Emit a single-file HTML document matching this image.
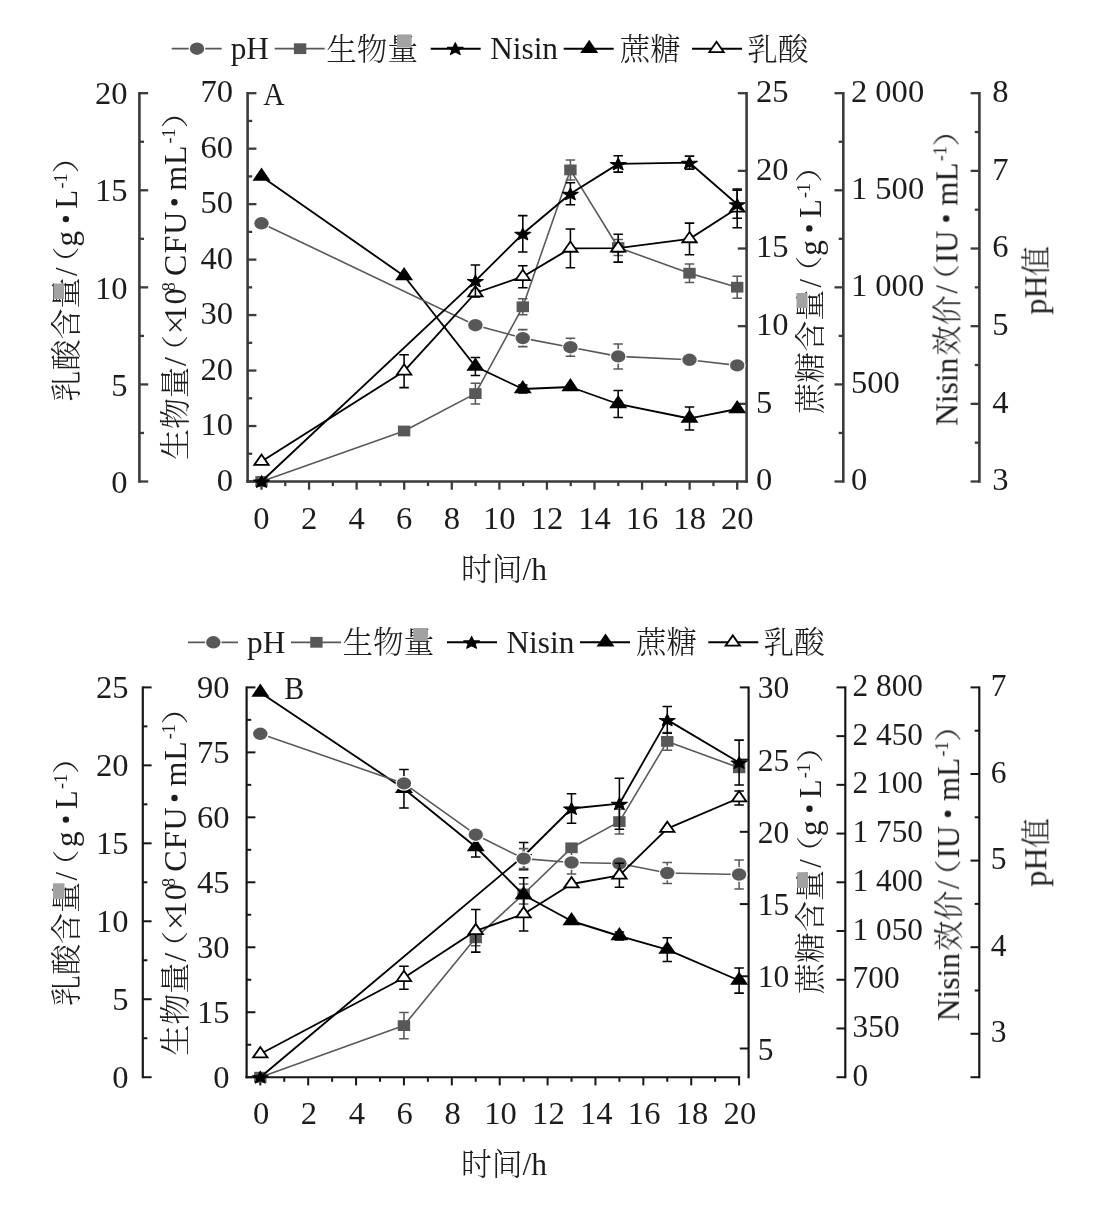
<!DOCTYPE html>
<html lang="zh">
<head>
<meta charset="utf-8">
<title>Nisin fermentation curves</title>
<style>
html,body{margin:0;padding:0;background:#fff;}
svg{display:block;}
.t{font-family:"Liberation Serif","Noto Serif CJK SC",serif;fill:#1c1c1c;}
.c{font-family:"Liberation Serif","Noto Serif CJK SC",serif;font-weight:300;fill:#1c1c1c;}
</style>
</head>
<body>
<svg width="1103" height="1211" viewBox="0 0 1103 1211">
<defs><filter id="soft" x="0" y="0" width="1103" height="1211" filterUnits="userSpaceOnUse"><feGaussianBlur stdDeviation="0.55"/></filter></defs>
<rect width="1103" height="1211" fill="#fff"/>
<g filter="url(#soft)">
<line x1="171.7" y1="48.7" x2="221.7" y2="48.7" stroke="#595959" stroke-width="1.75" stroke-linecap="butt"/>
<ellipse cx="197" cy="48.7" rx="7.2" ry="6.2" fill="#595959" stroke="#fff" stroke-width="2.4" paint-order="stroke"/>
<text transform="translate(230.7,59.3) scale(1.0,1)" text-anchor="start" font-size="31.3" class="t">pH</text>
<line x1="274.7" y1="48.7" x2="324.7" y2="48.7" stroke="#595959" stroke-width="1.75" stroke-linecap="butt"/>
<rect x="293.9" y="43.3" width="12.4" height="10.8" fill="#595959"/>
<text transform="translate(326.2,59.5) scale(1,1)" text-anchor="start" font-size="30.6" class="c">生物量</text>
<line x1="430.7" y1="48.7" x2="480.7" y2="48.7" stroke="#000000" stroke-width="2.0" stroke-linecap="butt"/>
<polygon points="455.3,42.82 457.4,47.06 463.19,47.31 458.69,50.18 460.18,54.58 455.3,52.12 450.42,54.58 451.91,50.18 447.41,47.31 453.2,47.06" fill="#000000" stroke="#000000" stroke-width="1.1" stroke-linejoin="round"/>
<text transform="translate(490.2,59.3) scale(1.0,1)" text-anchor="start" font-size="31.3" class="t">Nisin</text>
<line x1="563.7" y1="48.7" x2="613.7" y2="48.7" stroke="#000000" stroke-width="2.0" stroke-linecap="butt"/>
<polygon points="589.2,39.8 598.2,52.9 580.2,52.9" fill="#000000"/>
<text transform="translate(619.7,59.5) scale(1,1)" text-anchor="start" font-size="30.6" class="c">蔗糖</text>
<line x1="692" y1="48.7" x2="742" y2="48.7" stroke="#000000" stroke-width="2.0" stroke-linecap="butt"/>
<polygon points="716.5,41.77 723.7,52.07 709.3,52.07" fill="#fff" stroke="#000000" stroke-width="1.8" stroke-linejoin="miter"/>
<text transform="translate(747.2,59.5) scale(1,1)" text-anchor="start" font-size="30.6" class="c">乳酸</text>
<rect x="396.9" y="34.4" width="14.5" height="13.2" fill="#a2a2a2"/>
<line x1="246.3" y1="481.5" x2="747.9" y2="481.5" stroke="#3a3a3a" stroke-width="2.7" stroke-linecap="butt"/>
<line x1="261.5" y1="481.5" x2="261.5" y2="489.7" stroke="#3a3a3a" stroke-width="2.3" stroke-linecap="butt"/>
<text transform="translate(261.5,528.8) scale(1.0,1)" text-anchor="middle" font-size="32.6" class="t">0</text>
<line x1="285.29" y1="481.5" x2="285.29" y2="486.1" stroke="#3a3a3a" stroke-width="2.3" stroke-linecap="butt"/>
<line x1="309.07" y1="481.5" x2="309.07" y2="489.7" stroke="#3a3a3a" stroke-width="2.3" stroke-linecap="butt"/>
<text transform="translate(309.07,528.8) scale(1.0,1)" text-anchor="middle" font-size="32.6" class="t">2</text>
<line x1="332.86" y1="481.5" x2="332.86" y2="486.1" stroke="#3a3a3a" stroke-width="2.3" stroke-linecap="butt"/>
<line x1="356.64" y1="481.5" x2="356.64" y2="489.7" stroke="#3a3a3a" stroke-width="2.3" stroke-linecap="butt"/>
<text transform="translate(356.64,528.8) scale(1.0,1)" text-anchor="middle" font-size="32.6" class="t">4</text>
<line x1="380.43" y1="481.5" x2="380.43" y2="486.1" stroke="#3a3a3a" stroke-width="2.3" stroke-linecap="butt"/>
<line x1="404.21" y1="481.5" x2="404.21" y2="489.7" stroke="#3a3a3a" stroke-width="2.3" stroke-linecap="butt"/>
<text transform="translate(404.21,528.8) scale(1.0,1)" text-anchor="middle" font-size="32.6" class="t">6</text>
<line x1="428" y1="481.5" x2="428" y2="486.1" stroke="#3a3a3a" stroke-width="2.3" stroke-linecap="butt"/>
<line x1="451.78" y1="481.5" x2="451.78" y2="489.7" stroke="#3a3a3a" stroke-width="2.3" stroke-linecap="butt"/>
<text transform="translate(451.78,528.8) scale(1.0,1)" text-anchor="middle" font-size="32.6" class="t">8</text>
<line x1="475.57" y1="481.5" x2="475.57" y2="486.1" stroke="#3a3a3a" stroke-width="2.3" stroke-linecap="butt"/>
<line x1="499.35" y1="481.5" x2="499.35" y2="489.7" stroke="#3a3a3a" stroke-width="2.3" stroke-linecap="butt"/>
<text transform="translate(499.35,528.8) scale(1.0,1)" text-anchor="middle" font-size="32.6" class="t">10</text>
<line x1="523.13" y1="481.5" x2="523.13" y2="486.1" stroke="#3a3a3a" stroke-width="2.3" stroke-linecap="butt"/>
<line x1="546.92" y1="481.5" x2="546.92" y2="489.7" stroke="#3a3a3a" stroke-width="2.3" stroke-linecap="butt"/>
<text transform="translate(546.92,528.8) scale(1.0,1)" text-anchor="middle" font-size="32.6" class="t">12</text>
<line x1="570.71" y1="481.5" x2="570.71" y2="486.1" stroke="#3a3a3a" stroke-width="2.3" stroke-linecap="butt"/>
<line x1="594.49" y1="481.5" x2="594.49" y2="489.7" stroke="#3a3a3a" stroke-width="2.3" stroke-linecap="butt"/>
<text transform="translate(594.49,528.8) scale(1.0,1)" text-anchor="middle" font-size="32.6" class="t">14</text>
<line x1="618.28" y1="481.5" x2="618.28" y2="486.1" stroke="#3a3a3a" stroke-width="2.3" stroke-linecap="butt"/>
<line x1="642.06" y1="481.5" x2="642.06" y2="489.7" stroke="#3a3a3a" stroke-width="2.3" stroke-linecap="butt"/>
<text transform="translate(642.06,528.8) scale(1.0,1)" text-anchor="middle" font-size="32.6" class="t">16</text>
<line x1="665.85" y1="481.5" x2="665.85" y2="486.1" stroke="#3a3a3a" stroke-width="2.3" stroke-linecap="butt"/>
<line x1="689.63" y1="481.5" x2="689.63" y2="489.7" stroke="#3a3a3a" stroke-width="2.3" stroke-linecap="butt"/>
<text transform="translate(689.63,528.8) scale(1.0,1)" text-anchor="middle" font-size="32.6" class="t">18</text>
<line x1="713.42" y1="481.5" x2="713.42" y2="486.1" stroke="#3a3a3a" stroke-width="2.3" stroke-linecap="butt"/>
<line x1="737.2" y1="481.5" x2="737.2" y2="489.7" stroke="#3a3a3a" stroke-width="2.3" stroke-linecap="butt"/>
<text transform="translate(737.2,528.8) scale(1.0,1)" text-anchor="middle" font-size="32.6" class="t">20</text>
<text x="461" y="579.8" font-size="30.8" class="c">时间<tspan class="t" font-size="31.5">/h</tspan></text>
<line x1="139.4" y1="92.05" x2="139.4" y2="482.65" stroke="#3a3a3a" stroke-width="2.6" stroke-linecap="butt"/>
<line x1="139.4" y1="93.2" x2="148.2" y2="93.2" stroke="#3a3a3a" stroke-width="2.3" stroke-linecap="butt"/>
<line x1="139.4" y1="190.28" x2="148.2" y2="190.28" stroke="#3a3a3a" stroke-width="2.3" stroke-linecap="butt"/>
<line x1="139.4" y1="287.35" x2="148.2" y2="287.35" stroke="#3a3a3a" stroke-width="2.3" stroke-linecap="butt"/>
<line x1="139.4" y1="384.43" x2="148.2" y2="384.43" stroke="#3a3a3a" stroke-width="2.3" stroke-linecap="butt"/>
<line x1="139.4" y1="481.5" x2="148.2" y2="481.5" stroke="#3a3a3a" stroke-width="2.3" stroke-linecap="butt"/>
<line x1="139.4" y1="141.74" x2="144" y2="141.74" stroke="#3a3a3a" stroke-width="2.3" stroke-linecap="butt"/>
<line x1="139.4" y1="238.81" x2="144" y2="238.81" stroke="#3a3a3a" stroke-width="2.3" stroke-linecap="butt"/>
<line x1="139.4" y1="335.89" x2="144" y2="335.89" stroke="#3a3a3a" stroke-width="2.3" stroke-linecap="butt"/>
<line x1="139.4" y1="432.96" x2="144" y2="432.96" stroke="#3a3a3a" stroke-width="2.3" stroke-linecap="butt"/>
<text transform="translate(127.6,104.4) scale(1.0,1)" text-anchor="end" font-size="32.6" class="t">20</text>
<text transform="translate(127.6,201.47) scale(1.0,1)" text-anchor="end" font-size="32.6" class="t">15</text>
<text transform="translate(127.6,298.55) scale(1.0,1)" text-anchor="end" font-size="32.6" class="t">10</text>
<text transform="translate(127.6,395.62) scale(1.0,1)" text-anchor="end" font-size="32.6" class="t">5</text>
<text transform="translate(127.6,492.7) scale(1.0,1)" text-anchor="end" font-size="32.6" class="t">0</text>
<line x1="247.6" y1="92.05" x2="247.6" y2="482.65" stroke="#3a3a3a" stroke-width="2.6" stroke-linecap="butt"/>
<line x1="247.6" y1="93.2" x2="256.4" y2="93.2" stroke="#3a3a3a" stroke-width="2.3" stroke-linecap="butt"/>
<line x1="247.6" y1="148.67" x2="256.4" y2="148.67" stroke="#3a3a3a" stroke-width="2.3" stroke-linecap="butt"/>
<line x1="247.6" y1="204.14" x2="256.4" y2="204.14" stroke="#3a3a3a" stroke-width="2.3" stroke-linecap="butt"/>
<line x1="247.6" y1="259.61" x2="256.4" y2="259.61" stroke="#3a3a3a" stroke-width="2.3" stroke-linecap="butt"/>
<line x1="247.6" y1="315.09" x2="256.4" y2="315.09" stroke="#3a3a3a" stroke-width="2.3" stroke-linecap="butt"/>
<line x1="247.6" y1="370.56" x2="256.4" y2="370.56" stroke="#3a3a3a" stroke-width="2.3" stroke-linecap="butt"/>
<line x1="247.6" y1="426.03" x2="256.4" y2="426.03" stroke="#3a3a3a" stroke-width="2.3" stroke-linecap="butt"/>
<line x1="247.6" y1="481.5" x2="256.4" y2="481.5" stroke="#3a3a3a" stroke-width="2.3" stroke-linecap="butt"/>
<line x1="247.6" y1="120.94" x2="252.2" y2="120.94" stroke="#3a3a3a" stroke-width="2.3" stroke-linecap="butt"/>
<line x1="247.6" y1="176.41" x2="252.2" y2="176.41" stroke="#3a3a3a" stroke-width="2.3" stroke-linecap="butt"/>
<line x1="247.6" y1="231.88" x2="252.2" y2="231.88" stroke="#3a3a3a" stroke-width="2.3" stroke-linecap="butt"/>
<line x1="247.6" y1="287.35" x2="252.2" y2="287.35" stroke="#3a3a3a" stroke-width="2.3" stroke-linecap="butt"/>
<line x1="247.6" y1="342.82" x2="252.2" y2="342.82" stroke="#3a3a3a" stroke-width="2.3" stroke-linecap="butt"/>
<line x1="247.6" y1="398.29" x2="252.2" y2="398.29" stroke="#3a3a3a" stroke-width="2.3" stroke-linecap="butt"/>
<line x1="247.6" y1="453.76" x2="252.2" y2="453.76" stroke="#3a3a3a" stroke-width="2.3" stroke-linecap="butt"/>
<text transform="translate(233,102.2) scale(1.0,1)" text-anchor="end" font-size="32.6" class="t">70</text>
<text transform="translate(233,157.67) scale(1.0,1)" text-anchor="end" font-size="32.6" class="t">60</text>
<text transform="translate(233,213.14) scale(1.0,1)" text-anchor="end" font-size="32.6" class="t">50</text>
<text transform="translate(233,268.61) scale(1.0,1)" text-anchor="end" font-size="32.6" class="t">40</text>
<text transform="translate(233,324.09) scale(1.0,1)" text-anchor="end" font-size="32.6" class="t">30</text>
<text transform="translate(233,379.56) scale(1.0,1)" text-anchor="end" font-size="32.6" class="t">20</text>
<text transform="translate(233,435.03) scale(1.0,1)" text-anchor="end" font-size="32.6" class="t">10</text>
<text transform="translate(233,490.5) scale(1.0,1)" text-anchor="end" font-size="32.6" class="t">0</text>
<line x1="746.6" y1="92.05" x2="746.6" y2="482.65" stroke="#3a3a3a" stroke-width="2.6" stroke-linecap="butt"/>
<line x1="746.6" y1="93.2" x2="737.8" y2="93.2" stroke="#3a3a3a" stroke-width="2.3" stroke-linecap="butt"/>
<line x1="746.6" y1="170.86" x2="737.8" y2="170.86" stroke="#3a3a3a" stroke-width="2.3" stroke-linecap="butt"/>
<line x1="746.6" y1="248.52" x2="737.8" y2="248.52" stroke="#3a3a3a" stroke-width="2.3" stroke-linecap="butt"/>
<line x1="746.6" y1="326.18" x2="737.8" y2="326.18" stroke="#3a3a3a" stroke-width="2.3" stroke-linecap="butt"/>
<line x1="746.6" y1="403.84" x2="737.8" y2="403.84" stroke="#3a3a3a" stroke-width="2.3" stroke-linecap="butt"/>
<text transform="translate(756,101.9) scale(1.0,1)" text-anchor="start" font-size="32.6" class="t">25</text>
<text transform="translate(756,179.56) scale(1.0,1)" text-anchor="start" font-size="32.6" class="t">20</text>
<text transform="translate(756,257.22) scale(1.0,1)" text-anchor="start" font-size="32.6" class="t">15</text>
<text transform="translate(756,334.88) scale(1.0,1)" text-anchor="start" font-size="32.6" class="t">10</text>
<text transform="translate(756,412.54) scale(1.0,1)" text-anchor="start" font-size="32.6" class="t">5</text>
<text transform="translate(756,490.2) scale(1.0,1)" text-anchor="start" font-size="32.6" class="t">0</text>
<line x1="843.3" y1="92.05" x2="843.3" y2="482.65" stroke="#3a3a3a" stroke-width="2.6" stroke-linecap="butt"/>
<line x1="843.3" y1="93.2" x2="834.5" y2="93.2" stroke="#3a3a3a" stroke-width="2.3" stroke-linecap="butt"/>
<line x1="843.3" y1="190.28" x2="834.5" y2="190.28" stroke="#3a3a3a" stroke-width="2.3" stroke-linecap="butt"/>
<line x1="843.3" y1="287.35" x2="834.5" y2="287.35" stroke="#3a3a3a" stroke-width="2.3" stroke-linecap="butt"/>
<line x1="843.3" y1="384.43" x2="834.5" y2="384.43" stroke="#3a3a3a" stroke-width="2.3" stroke-linecap="butt"/>
<line x1="843.3" y1="481.5" x2="834.5" y2="481.5" stroke="#3a3a3a" stroke-width="2.3" stroke-linecap="butt"/>
<line x1="843.3" y1="141.74" x2="838.7" y2="141.74" stroke="#3a3a3a" stroke-width="2.3" stroke-linecap="butt"/>
<line x1="843.3" y1="238.81" x2="838.7" y2="238.81" stroke="#3a3a3a" stroke-width="2.3" stroke-linecap="butt"/>
<line x1="843.3" y1="335.89" x2="838.7" y2="335.89" stroke="#3a3a3a" stroke-width="2.3" stroke-linecap="butt"/>
<line x1="843.3" y1="432.96" x2="838.7" y2="432.96" stroke="#3a3a3a" stroke-width="2.3" stroke-linecap="butt"/>
<text transform="translate(850.9,101.6) scale(1.0,1)" text-anchor="start" font-size="32.6" class="t">2 000</text>
<text transform="translate(850.9,198.68) scale(1.0,1)" text-anchor="start" font-size="32.6" class="t">1 500</text>
<text transform="translate(850.9,295.75) scale(1.0,1)" text-anchor="start" font-size="32.6" class="t">1 000</text>
<text transform="translate(850.9,392.82) scale(1.0,1)" text-anchor="start" font-size="32.6" class="t">500</text>
<text transform="translate(850.9,489.9) scale(1.0,1)" text-anchor="start" font-size="32.6" class="t">0</text>
<line x1="979.4" y1="92.05" x2="979.4" y2="482.65" stroke="#3a3a3a" stroke-width="2.6" stroke-linecap="butt"/>
<line x1="979.4" y1="93.2" x2="970.6" y2="93.2" stroke="#3a3a3a" stroke-width="2.3" stroke-linecap="butt"/>
<line x1="979.4" y1="170.86" x2="970.6" y2="170.86" stroke="#3a3a3a" stroke-width="2.3" stroke-linecap="butt"/>
<line x1="979.4" y1="248.52" x2="970.6" y2="248.52" stroke="#3a3a3a" stroke-width="2.3" stroke-linecap="butt"/>
<line x1="979.4" y1="326.18" x2="970.6" y2="326.18" stroke="#3a3a3a" stroke-width="2.3" stroke-linecap="butt"/>
<line x1="979.4" y1="403.84" x2="970.6" y2="403.84" stroke="#3a3a3a" stroke-width="2.3" stroke-linecap="butt"/>
<line x1="979.4" y1="481.5" x2="970.6" y2="481.5" stroke="#3a3a3a" stroke-width="2.3" stroke-linecap="butt"/>
<line x1="979.4" y1="132.03" x2="974.8" y2="132.03" stroke="#3a3a3a" stroke-width="2.3" stroke-linecap="butt"/>
<line x1="979.4" y1="209.69" x2="974.8" y2="209.69" stroke="#3a3a3a" stroke-width="2.3" stroke-linecap="butt"/>
<line x1="979.4" y1="287.35" x2="974.8" y2="287.35" stroke="#3a3a3a" stroke-width="2.3" stroke-linecap="butt"/>
<line x1="979.4" y1="365.01" x2="974.8" y2="365.01" stroke="#3a3a3a" stroke-width="2.3" stroke-linecap="butt"/>
<line x1="979.4" y1="442.67" x2="974.8" y2="442.67" stroke="#3a3a3a" stroke-width="2.3" stroke-linecap="butt"/>
<text transform="translate(992.3,101.9) scale(1.0,1)" text-anchor="start" font-size="32.6" class="t">8</text>
<text transform="translate(992.3,179.56) scale(1.0,1)" text-anchor="start" font-size="32.6" class="t">7</text>
<text transform="translate(992.3,257.22) scale(1.0,1)" text-anchor="start" font-size="32.6" class="t">6</text>
<text transform="translate(992.3,334.88) scale(1.0,1)" text-anchor="start" font-size="32.6" class="t">5</text>
<text transform="translate(992.3,412.54) scale(1.0,1)" text-anchor="start" font-size="32.6" class="t">4</text>
<text transform="translate(992.3,490.2) scale(1.0,1)" text-anchor="start" font-size="32.6" class="t">3</text>
<g transform="translate(77.2,401.5) rotate(-90)">
<text x="0" y="0" font-size="31" class="c">乳酸含量</text>
<text x="125.5" y="0" font-size="31" class="t" letter-spacing="0">/</text>
<text transform="translate(121.6,-1.2) scale(1.25,1)" font-size="27" class="c">（</text>
<text x="155.1" y="0" font-size="31" class="t" letter-spacing="0">g</text>
<circle cx="182.4" cy="-11.3" r="3.2" fill="#1c1c1c"/>
<text x="192.8" y="0" font-size="31" class="t" letter-spacing="0">L</text>
<text x="212.9" y="-10.6" font-size="18" class="t">-1</text>
<text transform="translate(228.1,-1.2) scale(1.25,1)" font-size="27" class="c">）</text>
</g>
<rect x="53.5" y="283.5" width="10.5" height="15.5" fill="#a2a2a2"/>
<g transform="translate(185.7,460) rotate(-90)">
<text x="0" y="0" font-size="31" class="c">生物量</text>
<text x="94" y="0" font-size="32" class="t" letter-spacing="1">/</text>
<text transform="translate(91.5,-1.2) scale(1.25,1)" font-size="27" class="c">（</text>
<text x="126" y="0" font-size="32" class="t" letter-spacing="1">×</text>
<text x="138.5" y="0" font-size="32" class="t" letter-spacing="1">10</text>
<text x="168.8" y="-10.6" font-size="18" class="t">8</text>
<text x="184.1" y="0" font-size="32" class="t" letter-spacing="1">CFU</text>
<circle cx="257.8" cy="-11.3" r="3.2" fill="#1c1c1c"/>
<text x="269.2" y="0" font-size="32" class="t" letter-spacing="1">mL</text>
<text x="316.6" y="-10.6" font-size="18" class="t">-1</text>
<text transform="translate(331.4,-1.2) scale(1.25,1)" font-size="27" class="c">）</text>
</g>
<g transform="translate(820.6,410.8) rotate(-90)">
<text x="-3" y="0" font-size="31" class="c">蔗糖含量</text>
<text x="123.3" y="0" font-size="31" class="t" letter-spacing="0">/</text>
<text transform="translate(121.6,-1.2) scale(1.25,1)" font-size="27" class="c">（</text>
<text x="155.1" y="0" font-size="31" class="t" letter-spacing="0">g</text>
<circle cx="182.4" cy="-11.3" r="3.2" fill="#1c1c1c"/>
<text x="192.8" y="0" font-size="31" class="t" letter-spacing="0">L</text>
<text x="212.9" y="-10.6" font-size="18" class="t">-1</text>
<text transform="translate(228.1,-1.2) scale(1.25,1)" font-size="27" class="c">）</text>
</g>
<rect x="796.5" y="293" width="11" height="15" fill="#a2a2a2"/>
<g transform="translate(957.4,426.2) rotate(-90)">
<text x="0.3" y="0" font-size="31.5" class="t">Nisin</text>
<text x="70.8" y="0" font-size="30" class="c">效价</text>
<text x="132.5" y="0" font-size="31" class="t" letter-spacing="0">/</text>
<text transform="translate(128.4,-1.2) scale(1.25,1)" font-size="27" class="c">（</text>
<text x="163" y="0" font-size="31" class="t" letter-spacing="0">IU</text>
<circle cx="207.6" cy="-11.3" r="3.2" fill="#1c1c1c"/>
<text x="220.6" y="0" font-size="31" class="t" letter-spacing="0">mL</text>
<text x="264.9" y="-10.6" font-size="18" class="t">-1</text>
<text transform="translate(279.5,-1.2) scale(1.25,1)" font-size="27" class="c">）</text>
</g>
<g transform="translate(1046.3,314.5) rotate(-90)">
<text x="0" y="0" font-size="32" class="t" letter-spacing="0">pH</text>
<text x="38.5" y="0" font-size="30" class="c">值</text>
</g>
<text transform="translate(263.3,105) scale(0.95,1)" text-anchor="start" font-size="31" class="t">A</text>
<polyline points="261.5,481.5 404.1,431 475.4,393.6 522.8,306.8 570.4,169.9 618.2,247.5 689.5,273.2 737.2,287.2" fill="none" stroke="#595959" stroke-width="1.6" stroke-linejoin="round"/>
<path d="M475.4 383.2V404M470.65 383.2h9.5M470.65 404h9.5" fill="none" stroke="#595959" stroke-width="1.55"/>
<path d="M522.8 298.8V314.8M518.05 298.8h9.5M518.05 314.8h9.5" fill="none" stroke="#595959" stroke-width="1.55"/>
<path d="M570.4 159.9V179.9M565.65 159.9h9.5M565.65 179.9h9.5" fill="none" stroke="#595959" stroke-width="1.55"/>
<path d="M618.2 239.5V255.5M613.45 239.5h9.5M613.45 255.5h9.5" fill="none" stroke="#595959" stroke-width="1.55"/>
<path d="M689.5 263.9V282.5M684.75 263.9h9.5M684.75 282.5h9.5" fill="none" stroke="#595959" stroke-width="1.55"/>
<path d="M737.2 276.2V298.2M732.45 276.2h9.5M732.45 298.2h9.5" fill="none" stroke="#595959" stroke-width="1.55"/>
<rect x="255.3" y="476.1" width="12.4" height="10.8" fill="#595959"/>
<rect x="397.9" y="425.6" width="12.4" height="10.8" fill="#595959"/>
<rect x="469.2" y="388.2" width="12.4" height="10.8" fill="#595959"/>
<rect x="516.6" y="301.4" width="12.4" height="10.8" fill="#595959"/>
<rect x="564.2" y="164.5" width="12.4" height="10.8" fill="#595959"/>
<rect x="612" y="242.1" width="12.4" height="10.8" fill="#595959"/>
<rect x="683.3" y="267.8" width="12.4" height="10.8" fill="#595959"/>
<rect x="731" y="281.8" width="12.4" height="10.8" fill="#595959"/>
<polyline points="261.5,176.5 404.1,276 475.4,366.5 522.8,389 570.4,387 618.2,404 689.5,418.5 737.2,409" fill="none" stroke="#000000" stroke-width="1.85" stroke-linejoin="round"/>
<path d="M475.4 357.5V375.5M470.65 357.5h9.5M470.65 375.5h9.5" fill="none" stroke="#000000" stroke-width="1.55"/>
<path d="M522.8 385V393M518.05 385h9.5M518.05 393h9.5" fill="none" stroke="#000000" stroke-width="1.55"/>
<path d="M618.2 390.5V417.5M613.45 390.5h9.5M613.45 417.5h9.5" fill="none" stroke="#000000" stroke-width="1.55"/>
<path d="M689.5 407V430M684.75 407h9.5M684.75 430h9.5" fill="none" stroke="#000000" stroke-width="1.55"/>
<polygon points="261.5,167.6 270.5,180.7 252.5,180.7" fill="#000000"/>
<polygon points="404.1,267.1 413.1,280.2 395.1,280.2" fill="#000000"/>
<polygon points="475.4,357.6 484.4,370.7 466.4,370.7" fill="#000000"/>
<polygon points="522.8,380.1 531.8,393.2 513.8,393.2" fill="#000000"/>
<polygon points="570.4,378.1 579.4,391.2 561.4,391.2" fill="#000000"/>
<polygon points="618.2,395.1 627.2,408.2 609.2,408.2" fill="#000000"/>
<polygon points="689.5,409.6 698.5,422.7 680.5,422.7" fill="#000000"/>
<polygon points="737.2,400.1 746.2,413.2 728.2,413.2" fill="#000000"/>
<polyline points="261.5,223.3 475.4,325.2 522.8,338.1 570.4,347.2 618.2,356.4 689.5,359.8 737.2,365.4" fill="none" stroke="#595959" stroke-width="1.6" stroke-linejoin="round"/>
<path d="M522.8 329.6V346.6M518.05 329.6h9.5M518.05 346.6h9.5" fill="none" stroke="#595959" stroke-width="1.55"/>
<path d="M570.4 338.2V356.2M565.65 338.2h9.5M565.65 356.2h9.5" fill="none" stroke="#595959" stroke-width="1.55"/>
<path d="M618.2 343.9V368.9M613.45 343.9h9.5M613.45 368.9h9.5" fill="none" stroke="#595959" stroke-width="1.55"/>
<ellipse cx="261.5" cy="223.3" rx="7.2" ry="6.2" fill="#595959" stroke="#fff" stroke-width="2.4" paint-order="stroke"/>
<ellipse cx="475.4" cy="325.2" rx="7.2" ry="6.2" fill="#595959" stroke="#fff" stroke-width="2.4" paint-order="stroke"/>
<ellipse cx="522.8" cy="338.1" rx="7.2" ry="6.2" fill="#595959" stroke="#fff" stroke-width="2.4" paint-order="stroke"/>
<ellipse cx="570.4" cy="347.2" rx="7.2" ry="6.2" fill="#595959" stroke="#fff" stroke-width="2.4" paint-order="stroke"/>
<ellipse cx="618.2" cy="356.4" rx="7.2" ry="6.2" fill="#595959" stroke="#fff" stroke-width="2.4" paint-order="stroke"/>
<ellipse cx="689.5" cy="359.8" rx="7.2" ry="6.2" fill="#595959" stroke="#fff" stroke-width="2.4" paint-order="stroke"/>
<ellipse cx="737.2" cy="365.4" rx="7.2" ry="6.2" fill="#595959" stroke="#fff" stroke-width="2.4" paint-order="stroke"/>
<polyline points="261.5,461.5 404.1,371.2 475.4,293 522.8,276.7 570.4,248.4 618.2,248.2 689.5,238.9 737.2,208.3" fill="none" stroke="#000000" stroke-width="1.85" stroke-linejoin="round"/>
<path d="M404.1 354.8V387.6M399.35 354.8h9.5M399.35 387.6h9.5" fill="none" stroke="#000000" stroke-width="1.55"/>
<path d="M475.4 290.5V295.5M470.65 290.5h9.5M470.65 295.5h9.5" fill="none" stroke="#000000" stroke-width="1.55"/>
<path d="M522.8 265.7V287.7M518.05 265.7h9.5M518.05 287.7h9.5" fill="none" stroke="#000000" stroke-width="1.55"/>
<path d="M570.4 229V267.8M565.65 229h9.5M565.65 267.8h9.5" fill="none" stroke="#000000" stroke-width="1.55"/>
<path d="M618.2 234.3V262.1M613.45 234.3h9.5M613.45 262.1h9.5" fill="none" stroke="#000000" stroke-width="1.55"/>
<path d="M689.5 223.1V254.7M684.75 223.1h9.5M684.75 254.7h9.5" fill="none" stroke="#000000" stroke-width="1.55"/>
<path d="M737.2 188.9V227.7M732.45 188.9h9.5M732.45 227.7h9.5" fill="none" stroke="#000000" stroke-width="1.55"/>
<polygon points="261.5,454.57 268.7,464.87 254.3,464.87" fill="#fff" stroke="#000000" stroke-width="1.8" stroke-linejoin="miter"/>
<polygon points="404.1,364.27 411.3,374.57 396.9,374.57" fill="#fff" stroke="#000000" stroke-width="1.8" stroke-linejoin="miter"/>
<polygon points="475.4,286.07 482.6,296.37 468.2,296.37" fill="#fff" stroke="#000000" stroke-width="1.8" stroke-linejoin="miter"/>
<polygon points="522.8,269.77 530,280.07 515.6,280.07" fill="#fff" stroke="#000000" stroke-width="1.8" stroke-linejoin="miter"/>
<polygon points="570.4,241.47 577.6,251.77 563.2,251.77" fill="#fff" stroke="#000000" stroke-width="1.8" stroke-linejoin="miter"/>
<polygon points="618.2,241.27 625.4,251.57 611,251.57" fill="#fff" stroke="#000000" stroke-width="1.8" stroke-linejoin="miter"/>
<polygon points="689.5,231.97 696.7,242.27 682.3,242.27" fill="#fff" stroke="#000000" stroke-width="1.8" stroke-linejoin="miter"/>
<polygon points="737.2,201.37 744.4,211.67 730,211.67" fill="#fff" stroke="#000000" stroke-width="1.8" stroke-linejoin="miter"/>
<polyline points="261.5,481.5 475.4,280.9 522.8,233.8 570.4,193.8 618.2,163.9 689.5,162.6 737.2,204.3" fill="none" stroke="#000000" stroke-width="1.85" stroke-linejoin="round"/>
<path d="M475.4 264.9V296.9M470.65 264.9h9.5M470.65 296.9h9.5" fill="none" stroke="#000000" stroke-width="1.55"/>
<path d="M522.8 215.6V252M518.05 215.6h9.5M518.05 252h9.5" fill="none" stroke="#000000" stroke-width="1.55"/>
<path d="M570.4 182.8V204.8M565.65 182.8h9.5M565.65 204.8h9.5" fill="none" stroke="#000000" stroke-width="1.55"/>
<path d="M618.2 155.7V172.1M613.45 155.7h9.5M613.45 172.1h9.5" fill="none" stroke="#000000" stroke-width="1.55"/>
<path d="M689.5 156.1V169.1M684.75 156.1h9.5M684.75 169.1h9.5" fill="none" stroke="#000000" stroke-width="1.55"/>
<path d="M737.2 190.3V218.3M732.45 190.3h9.5M732.45 218.3h9.5" fill="none" stroke="#000000" stroke-width="1.55"/>
<polygon points="261.5,475.62 263.6,479.86 269.39,480.11 264.89,482.98 266.38,487.38 261.5,484.92 256.62,487.38 258.11,482.98 253.61,480.11 259.4,479.86" fill="#000000" stroke="#000000" stroke-width="1.1" stroke-linejoin="round"/>
<polygon points="475.4,275.02 477.5,279.26 483.29,279.51 478.79,282.38 480.28,286.78 475.4,284.32 470.52,286.78 472.01,282.38 467.51,279.51 473.3,279.26" fill="#000000" stroke="#000000" stroke-width="1.1" stroke-linejoin="round"/>
<polygon points="522.8,227.92 524.9,232.16 530.69,232.41 526.19,235.28 527.68,239.68 522.8,237.22 517.92,239.68 519.41,235.28 514.91,232.41 520.7,232.16" fill="#000000" stroke="#000000" stroke-width="1.1" stroke-linejoin="round"/>
<polygon points="570.4,187.92 572.5,192.16 578.29,192.41 573.79,195.28 575.28,199.68 570.4,197.22 565.52,199.68 567.01,195.28 562.51,192.41 568.3,192.16" fill="#000000" stroke="#000000" stroke-width="1.1" stroke-linejoin="round"/>
<polygon points="618.2,158.02 620.3,162.26 626.09,162.51 621.59,165.38 623.08,169.78 618.2,167.32 613.32,169.78 614.81,165.38 610.31,162.51 616.1,162.26" fill="#000000" stroke="#000000" stroke-width="1.1" stroke-linejoin="round"/>
<polygon points="689.5,156.72 691.6,160.96 697.39,161.21 692.89,164.08 694.38,168.48 689.5,166.02 684.62,168.48 686.11,164.08 681.61,161.21 687.4,160.96" fill="#000000" stroke="#000000" stroke-width="1.1" stroke-linejoin="round"/>
<polygon points="737.2,198.42 739.3,202.66 745.09,202.91 740.59,205.78 742.08,210.18 737.2,207.72 732.32,210.18 733.81,205.78 729.31,202.91 735.1,202.66" fill="#000000" stroke="#000000" stroke-width="1.1" stroke-linejoin="round"/>
<line x1="188" y1="642.3" x2="238" y2="642.3" stroke="#595959" stroke-width="1.75" stroke-linecap="butt"/>
<ellipse cx="213.3" cy="642.3" rx="7.2" ry="6.2" fill="#595959" stroke="#fff" stroke-width="2.4" paint-order="stroke"/>
<text transform="translate(247,652.9) scale(1.0,1)" text-anchor="start" font-size="31.3" class="t">pH</text>
<line x1="291" y1="642.3" x2="341" y2="642.3" stroke="#595959" stroke-width="1.75" stroke-linecap="butt"/>
<rect x="310.2" y="636.9" width="12.4" height="10.8" fill="#595959"/>
<text transform="translate(342.5,653.1) scale(1,1)" text-anchor="start" font-size="30.6" class="c">生物量</text>
<line x1="447" y1="642.3" x2="497" y2="642.3" stroke="#000000" stroke-width="2.0" stroke-linecap="butt"/>
<polygon points="471.6,636.42 473.7,640.66 479.49,640.91 474.99,643.78 476.48,648.18 471.6,645.72 466.72,648.18 468.21,643.78 463.71,640.91 469.5,640.66" fill="#000000" stroke="#000000" stroke-width="1.1" stroke-linejoin="round"/>
<text transform="translate(506.5,652.9) scale(1.0,1)" text-anchor="start" font-size="31.3" class="t">Nisin</text>
<line x1="580" y1="642.3" x2="630" y2="642.3" stroke="#000000" stroke-width="2.0" stroke-linecap="butt"/>
<polygon points="605.5,633.4 614.5,646.5 596.5,646.5" fill="#000000"/>
<text transform="translate(636,653.1) scale(1,1)" text-anchor="start" font-size="30.6" class="c">蔗糖</text>
<line x1="708.3" y1="642.3" x2="758.3" y2="642.3" stroke="#000000" stroke-width="2.0" stroke-linecap="butt"/>
<polygon points="732.8,635.37 740,645.67 725.6,645.67" fill="#fff" stroke="#000000" stroke-width="1.8" stroke-linejoin="miter"/>
<text transform="translate(763.5,653.1) scale(1,1)" text-anchor="start" font-size="30.6" class="c">乳酸</text>
<rect x="413.2" y="628" width="14.5" height="13.2" fill="#a2a2a2"/>
<line x1="245.5" y1="1077.2" x2="740.1" y2="1077.2" stroke="#161616" stroke-width="2.0" stroke-linecap="butt"/>
<line x1="260.3" y1="1077.2" x2="260.3" y2="1085.4" stroke="#161616" stroke-width="2.0" stroke-linecap="butt"/>
<text transform="translate(261.1,1124.3) scale(1.0,1)" text-anchor="middle" font-size="32.6" class="t">0</text>
<line x1="284.24" y1="1077.2" x2="284.24" y2="1081.8" stroke="#161616" stroke-width="2.0" stroke-linecap="butt"/>
<line x1="308.18" y1="1077.2" x2="308.18" y2="1085.4" stroke="#161616" stroke-width="2.0" stroke-linecap="butt"/>
<text transform="translate(308.98,1124.3) scale(1.0,1)" text-anchor="middle" font-size="32.6" class="t">2</text>
<line x1="332.12" y1="1077.2" x2="332.12" y2="1081.8" stroke="#161616" stroke-width="2.0" stroke-linecap="butt"/>
<line x1="356.06" y1="1077.2" x2="356.06" y2="1085.4" stroke="#161616" stroke-width="2.0" stroke-linecap="butt"/>
<text transform="translate(356.86,1124.3) scale(1.0,1)" text-anchor="middle" font-size="32.6" class="t">4</text>
<line x1="380" y1="1077.2" x2="380" y2="1081.8" stroke="#161616" stroke-width="2.0" stroke-linecap="butt"/>
<line x1="403.94" y1="1077.2" x2="403.94" y2="1085.4" stroke="#161616" stroke-width="2.0" stroke-linecap="butt"/>
<text transform="translate(404.74,1124.3) scale(1.0,1)" text-anchor="middle" font-size="32.6" class="t">6</text>
<line x1="427.88" y1="1077.2" x2="427.88" y2="1081.8" stroke="#161616" stroke-width="2.0" stroke-linecap="butt"/>
<line x1="451.82" y1="1077.2" x2="451.82" y2="1085.4" stroke="#161616" stroke-width="2.0" stroke-linecap="butt"/>
<text transform="translate(452.62,1124.3) scale(1.0,1)" text-anchor="middle" font-size="32.6" class="t">8</text>
<line x1="475.76" y1="1077.2" x2="475.76" y2="1081.8" stroke="#161616" stroke-width="2.0" stroke-linecap="butt"/>
<line x1="499.7" y1="1077.2" x2="499.7" y2="1085.4" stroke="#161616" stroke-width="2.0" stroke-linecap="butt"/>
<text transform="translate(500.5,1124.3) scale(1.0,1)" text-anchor="middle" font-size="32.6" class="t">10</text>
<line x1="523.64" y1="1077.2" x2="523.64" y2="1081.8" stroke="#161616" stroke-width="2.0" stroke-linecap="butt"/>
<line x1="547.58" y1="1077.2" x2="547.58" y2="1085.4" stroke="#161616" stroke-width="2.0" stroke-linecap="butt"/>
<text transform="translate(548.38,1124.3) scale(1.0,1)" text-anchor="middle" font-size="32.6" class="t">12</text>
<line x1="571.52" y1="1077.2" x2="571.52" y2="1081.8" stroke="#161616" stroke-width="2.0" stroke-linecap="butt"/>
<line x1="595.46" y1="1077.2" x2="595.46" y2="1085.4" stroke="#161616" stroke-width="2.0" stroke-linecap="butt"/>
<text transform="translate(596.26,1124.3) scale(1.0,1)" text-anchor="middle" font-size="32.6" class="t">14</text>
<line x1="619.4" y1="1077.2" x2="619.4" y2="1081.8" stroke="#161616" stroke-width="2.0" stroke-linecap="butt"/>
<line x1="643.34" y1="1077.2" x2="643.34" y2="1085.4" stroke="#161616" stroke-width="2.0" stroke-linecap="butt"/>
<text transform="translate(644.14,1124.3) scale(1.0,1)" text-anchor="middle" font-size="32.6" class="t">16</text>
<line x1="667.28" y1="1077.2" x2="667.28" y2="1081.8" stroke="#161616" stroke-width="2.0" stroke-linecap="butt"/>
<line x1="691.22" y1="1077.2" x2="691.22" y2="1085.4" stroke="#161616" stroke-width="2.0" stroke-linecap="butt"/>
<text transform="translate(692.02,1124.3) scale(1.0,1)" text-anchor="middle" font-size="32.6" class="t">18</text>
<line x1="715.16" y1="1077.2" x2="715.16" y2="1081.8" stroke="#161616" stroke-width="2.0" stroke-linecap="butt"/>
<line x1="739.1" y1="1077.2" x2="739.1" y2="1085.4" stroke="#161616" stroke-width="2.0" stroke-linecap="butt"/>
<text transform="translate(739.9,1124.3) scale(1.0,1)" text-anchor="middle" font-size="32.6" class="t">20</text>
<text x="461" y="1175.2" font-size="30.8" class="c">时间<tspan class="t" font-size="31.5">/h</tspan></text>
<line x1="142.8" y1="686.4" x2="142.8" y2="1078.2" stroke="#161616" stroke-width="2.2" stroke-linecap="butt"/>
<line x1="142.8" y1="687.4" x2="151.6" y2="687.4" stroke="#161616" stroke-width="2.0" stroke-linecap="butt"/>
<line x1="142.8" y1="765.36" x2="151.6" y2="765.36" stroke="#161616" stroke-width="2.0" stroke-linecap="butt"/>
<line x1="142.8" y1="843.32" x2="151.6" y2="843.32" stroke="#161616" stroke-width="2.0" stroke-linecap="butt"/>
<line x1="142.8" y1="921.28" x2="151.6" y2="921.28" stroke="#161616" stroke-width="2.0" stroke-linecap="butt"/>
<line x1="142.8" y1="999.24" x2="151.6" y2="999.24" stroke="#161616" stroke-width="2.0" stroke-linecap="butt"/>
<line x1="142.8" y1="1077.2" x2="151.6" y2="1077.2" stroke="#161616" stroke-width="2.0" stroke-linecap="butt"/>
<line x1="142.8" y1="726.38" x2="147.4" y2="726.38" stroke="#161616" stroke-width="2.0" stroke-linecap="butt"/>
<line x1="142.8" y1="804.34" x2="147.4" y2="804.34" stroke="#161616" stroke-width="2.0" stroke-linecap="butt"/>
<line x1="142.8" y1="882.3" x2="147.4" y2="882.3" stroke="#161616" stroke-width="2.0" stroke-linecap="butt"/>
<line x1="142.8" y1="960.26" x2="147.4" y2="960.26" stroke="#161616" stroke-width="2.0" stroke-linecap="butt"/>
<line x1="142.8" y1="1038.22" x2="147.4" y2="1038.22" stroke="#161616" stroke-width="2.0" stroke-linecap="butt"/>
<text transform="translate(128.6,698.4) scale(1.0,1)" text-anchor="end" font-size="32.6" class="t">25</text>
<text transform="translate(128.6,776.36) scale(1.0,1)" text-anchor="end" font-size="32.6" class="t">20</text>
<text transform="translate(128.6,854.32) scale(1.0,1)" text-anchor="end" font-size="32.6" class="t">15</text>
<text transform="translate(128.6,932.28) scale(1.0,1)" text-anchor="end" font-size="32.6" class="t">10</text>
<text transform="translate(128.6,1010.24) scale(1.0,1)" text-anchor="end" font-size="32.6" class="t">5</text>
<text transform="translate(128.6,1088.2) scale(1.0,1)" text-anchor="end" font-size="32.6" class="t">0</text>
<line x1="246.6" y1="686.4" x2="246.6" y2="1078.2" stroke="#161616" stroke-width="2.2" stroke-linecap="butt"/>
<line x1="246.6" y1="687.4" x2="255.4" y2="687.4" stroke="#161616" stroke-width="2.0" stroke-linecap="butt"/>
<line x1="246.6" y1="752.37" x2="255.4" y2="752.37" stroke="#161616" stroke-width="2.0" stroke-linecap="butt"/>
<line x1="246.6" y1="817.33" x2="255.4" y2="817.33" stroke="#161616" stroke-width="2.0" stroke-linecap="butt"/>
<line x1="246.6" y1="882.3" x2="255.4" y2="882.3" stroke="#161616" stroke-width="2.0" stroke-linecap="butt"/>
<line x1="246.6" y1="947.27" x2="255.4" y2="947.27" stroke="#161616" stroke-width="2.0" stroke-linecap="butt"/>
<line x1="246.6" y1="1012.23" x2="255.4" y2="1012.23" stroke="#161616" stroke-width="2.0" stroke-linecap="butt"/>
<line x1="246.6" y1="1077.2" x2="255.4" y2="1077.2" stroke="#161616" stroke-width="2.0" stroke-linecap="butt"/>
<line x1="246.6" y1="719.88" x2="251.2" y2="719.88" stroke="#161616" stroke-width="2.0" stroke-linecap="butt"/>
<line x1="246.6" y1="784.85" x2="251.2" y2="784.85" stroke="#161616" stroke-width="2.0" stroke-linecap="butt"/>
<line x1="246.6" y1="849.82" x2="251.2" y2="849.82" stroke="#161616" stroke-width="2.0" stroke-linecap="butt"/>
<line x1="246.6" y1="914.78" x2="251.2" y2="914.78" stroke="#161616" stroke-width="2.0" stroke-linecap="butt"/>
<line x1="246.6" y1="979.75" x2="251.2" y2="979.75" stroke="#161616" stroke-width="2.0" stroke-linecap="butt"/>
<line x1="246.6" y1="1044.72" x2="251.2" y2="1044.72" stroke="#161616" stroke-width="2.0" stroke-linecap="butt"/>
<text transform="translate(229.5,698.4) scale(1.0,1)" text-anchor="end" font-size="32.6" class="t">90</text>
<text transform="translate(229.5,763.37) scale(1.0,1)" text-anchor="end" font-size="32.6" class="t">75</text>
<text transform="translate(229.5,828.33) scale(1.0,1)" text-anchor="end" font-size="32.6" class="t">60</text>
<text transform="translate(229.5,893.3) scale(1.0,1)" text-anchor="end" font-size="32.6" class="t">45</text>
<text transform="translate(229.5,958.27) scale(1.0,1)" text-anchor="end" font-size="32.6" class="t">30</text>
<text transform="translate(229.5,1023.23) scale(1.0,1)" text-anchor="end" font-size="32.6" class="t">15</text>
<text transform="translate(229.5,1088.2) scale(1.0,1)" text-anchor="end" font-size="32.6" class="t">0</text>
<line x1="748.6" y1="686.4" x2="748.6" y2="1078.2" stroke="#161616" stroke-width="2.2" stroke-linecap="butt"/>
<line x1="748.6" y1="687.4" x2="739.8" y2="687.4" stroke="#161616" stroke-width="2.0" stroke-linecap="butt"/>
<line x1="748.6" y1="759.62" x2="739.8" y2="759.62" stroke="#161616" stroke-width="2.0" stroke-linecap="butt"/>
<line x1="748.6" y1="831.84" x2="739.8" y2="831.84" stroke="#161616" stroke-width="2.0" stroke-linecap="butt"/>
<line x1="748.6" y1="904.06" x2="739.8" y2="904.06" stroke="#161616" stroke-width="2.0" stroke-linecap="butt"/>
<line x1="748.6" y1="976.28" x2="739.8" y2="976.28" stroke="#161616" stroke-width="2.0" stroke-linecap="butt"/>
<line x1="748.6" y1="1048.5" x2="739.8" y2="1048.5" stroke="#161616" stroke-width="2.0" stroke-linecap="butt"/>
<text transform="translate(757.8,698.4) scale(1.0,1)" text-anchor="start" font-size="31.5" class="t">30</text>
<text transform="translate(757.8,770.62) scale(1.0,1)" text-anchor="start" font-size="31.5" class="t">25</text>
<text transform="translate(757.8,842.84) scale(1.0,1)" text-anchor="start" font-size="31.5" class="t">20</text>
<text transform="translate(757.8,915.06) scale(1.0,1)" text-anchor="start" font-size="31.5" class="t">15</text>
<text transform="translate(757.8,987.28) scale(1.0,1)" text-anchor="start" font-size="31.5" class="t">10</text>
<text transform="translate(757.8,1059.5) scale(1.0,1)" text-anchor="start" font-size="31.5" class="t">5</text>
<line x1="845.3" y1="686.4" x2="845.3" y2="1078.2" stroke="#161616" stroke-width="2.2" stroke-linecap="butt"/>
<line x1="845.3" y1="687.4" x2="836.5" y2="687.4" stroke="#161616" stroke-width="2.0" stroke-linecap="butt"/>
<line x1="845.3" y1="736.12" x2="836.5" y2="736.12" stroke="#161616" stroke-width="2.0" stroke-linecap="butt"/>
<line x1="845.3" y1="784.85" x2="836.5" y2="784.85" stroke="#161616" stroke-width="2.0" stroke-linecap="butt"/>
<line x1="845.3" y1="833.58" x2="836.5" y2="833.58" stroke="#161616" stroke-width="2.0" stroke-linecap="butt"/>
<line x1="845.3" y1="882.3" x2="836.5" y2="882.3" stroke="#161616" stroke-width="2.0" stroke-linecap="butt"/>
<line x1="845.3" y1="931.03" x2="836.5" y2="931.03" stroke="#161616" stroke-width="2.0" stroke-linecap="butt"/>
<line x1="845.3" y1="979.75" x2="836.5" y2="979.75" stroke="#161616" stroke-width="2.0" stroke-linecap="butt"/>
<line x1="845.3" y1="1028.47" x2="836.5" y2="1028.47" stroke="#161616" stroke-width="2.0" stroke-linecap="butt"/>
<line x1="845.3" y1="1077.2" x2="836.5" y2="1077.2" stroke="#161616" stroke-width="2.0" stroke-linecap="butt"/>
<text transform="translate(852.6,695.9) scale(1.0,1)" text-anchor="start" font-size="31.3" class="t">2 800</text>
<text transform="translate(852.6,744.62) scale(1.0,1)" text-anchor="start" font-size="31.3" class="t">2 450</text>
<text transform="translate(852.6,793.35) scale(1.0,1)" text-anchor="start" font-size="31.3" class="t">2 100</text>
<text transform="translate(852.6,842.08) scale(1.0,1)" text-anchor="start" font-size="31.3" class="t">1 750</text>
<text transform="translate(852.6,890.8) scale(1.0,1)" text-anchor="start" font-size="31.3" class="t">1 400</text>
<text transform="translate(852.6,939.53) scale(1.0,1)" text-anchor="start" font-size="31.3" class="t">1 050</text>
<text transform="translate(852.6,988.25) scale(1.0,1)" text-anchor="start" font-size="31.3" class="t">700</text>
<text transform="translate(852.6,1036.97) scale(1.0,1)" text-anchor="start" font-size="31.3" class="t">350</text>
<text transform="translate(852.6,1085.7) scale(1.0,1)" text-anchor="start" font-size="31.3" class="t">0</text>
<line x1="979.3" y1="686.4" x2="979.3" y2="1078.2" stroke="#161616" stroke-width="2.2" stroke-linecap="butt"/>
<line x1="979.3" y1="687.4" x2="970.5" y2="687.4" stroke="#161616" stroke-width="2.0" stroke-linecap="butt"/>
<line x1="979.3" y1="774" x2="970.5" y2="774" stroke="#161616" stroke-width="2.0" stroke-linecap="butt"/>
<line x1="979.3" y1="860.6" x2="970.5" y2="860.6" stroke="#161616" stroke-width="2.0" stroke-linecap="butt"/>
<line x1="979.3" y1="947.2" x2="970.5" y2="947.2" stroke="#161616" stroke-width="2.0" stroke-linecap="butt"/>
<line x1="979.3" y1="1033.8" x2="970.5" y2="1033.8" stroke="#161616" stroke-width="2.0" stroke-linecap="butt"/>
<line x1="979.3" y1="1077.2" x2="970.5" y2="1077.2" stroke="#161616" stroke-width="2.0" stroke-linecap="butt"/>
<line x1="979.3" y1="730.7" x2="974.7" y2="730.7" stroke="#161616" stroke-width="2.0" stroke-linecap="butt"/>
<line x1="979.3" y1="817.3" x2="974.7" y2="817.3" stroke="#161616" stroke-width="2.0" stroke-linecap="butt"/>
<line x1="979.3" y1="903.9" x2="974.7" y2="903.9" stroke="#161616" stroke-width="2.0" stroke-linecap="butt"/>
<line x1="979.3" y1="990.5" x2="974.7" y2="990.5" stroke="#161616" stroke-width="2.0" stroke-linecap="butt"/>
<text transform="translate(990.8,695.9) scale(1.0,1)" text-anchor="start" font-size="31.5" class="t">7</text>
<text transform="translate(990.8,782.5) scale(1.0,1)" text-anchor="start" font-size="31.5" class="t">6</text>
<text transform="translate(990.8,869.1) scale(1.0,1)" text-anchor="start" font-size="31.5" class="t">5</text>
<text transform="translate(990.8,955.7) scale(1.0,1)" text-anchor="start" font-size="31.5" class="t">4</text>
<text transform="translate(990.8,1042.3) scale(1.0,1)" text-anchor="start" font-size="31.5" class="t">3</text>
<g transform="translate(77.2,1002) rotate(-90)">
<text x="-4" y="0" font-size="31" class="c">乳酸含量</text>
<text x="121.5" y="0" font-size="31" class="t" letter-spacing="0">/</text>
<text transform="translate(119.1,-1.2) scale(1.25,1)" font-size="27" class="c">（</text>
<text x="155.1" y="0" font-size="31" class="t" letter-spacing="0">g</text>
<circle cx="182.4" cy="-11.3" r="3.2" fill="#1c1c1c"/>
<text x="192.8" y="0" font-size="31" class="t" letter-spacing="0">L</text>
<text x="212.9" y="-10.6" font-size="18" class="t">-1</text>
<text transform="translate(228.1,-1.2) scale(1.25,1)" font-size="27" class="c">）</text>
</g>
<rect x="53" y="883.3" width="11.5" height="15.8" fill="#a2a2a2"/>
<g transform="translate(185.8,1055.8) rotate(-90)">
<text x="0" y="0" font-size="31" class="c">生物量</text>
<text x="94" y="0" font-size="32" class="t" letter-spacing="1">/</text>
<text transform="translate(91.5,-1.2) scale(1.25,1)" font-size="27" class="c">（</text>
<text x="126" y="0" font-size="32" class="t" letter-spacing="1">×</text>
<text x="138.5" y="0" font-size="32" class="t" letter-spacing="1">10</text>
<text x="168.8" y="-10.6" font-size="18" class="t">8</text>
<text x="184.1" y="0" font-size="32" class="t" letter-spacing="1">CFU</text>
<circle cx="257.8" cy="-11.3" r="3.2" fill="#1c1c1c"/>
<text x="269.2" y="0" font-size="32" class="t" letter-spacing="1">mL</text>
<text x="316.6" y="-10.6" font-size="18" class="t">-1</text>
<text transform="translate(331.4,-1.2) scale(1.25,1)" font-size="27" class="c">）</text>
</g>
<g transform="translate(820.8,991.1) rotate(-90)">
<text x="-3" y="0" font-size="31" class="c">蔗糖含量</text>
<text x="123.3" y="0" font-size="31" class="t" letter-spacing="0">/</text>
<text transform="translate(121.6,-1.2) scale(1.25,1)" font-size="27" class="c">（</text>
<text x="155.1" y="0" font-size="31" class="t" letter-spacing="0">g</text>
<circle cx="182.4" cy="-11.3" r="3.2" fill="#1c1c1c"/>
<text x="192.8" y="0" font-size="31" class="t" letter-spacing="0">L</text>
<text x="212.9" y="-10.6" font-size="18" class="t">-1</text>
<text transform="translate(228.1,-1.2) scale(1.25,1)" font-size="27" class="c">）</text>
</g>
<rect x="797.2" y="872.2" width="10.8" height="15.8" fill="#a2a2a2"/>
<g transform="translate(959.1,1021.5) rotate(-90)">
<text x="0.3" y="0" font-size="31.5" class="t">Nisin</text>
<text x="70.8" y="0" font-size="30" class="c">效价</text>
<text x="132.5" y="0" font-size="31" class="t" letter-spacing="0">/</text>
<text transform="translate(128.4,-1.2) scale(1.25,1)" font-size="27" class="c">（</text>
<text x="163" y="0" font-size="31" class="t" letter-spacing="0">IU</text>
<circle cx="207.6" cy="-11.3" r="3.2" fill="#1c1c1c"/>
<text x="220.6" y="0" font-size="31" class="t" letter-spacing="0">mL</text>
<text x="264.9" y="-10.6" font-size="18" class="t">-1</text>
<text transform="translate(279.5,-1.2) scale(1.25,1)" font-size="27" class="c">）</text>
</g>
<g transform="translate(1046.3,886.6) rotate(-90)">
<text x="0" y="0" font-size="32" class="t" letter-spacing="0">pH</text>
<text x="38.5" y="0" font-size="30" class="c">值</text>
</g>
<text transform="translate(284.2,699.4) scale(0.95,1)" text-anchor="start" font-size="31.5" class="t">B</text>
<polyline points="260.3,1077.2 403.94,1025.6 475.76,937.8 523.64,894 571.52,847.8 619.4,821.6 667.28,741.4 739.1,767.8" fill="none" stroke="#595959" stroke-width="1.6" stroke-linejoin="round"/>
<path d="M403.94 1012.4V1038.8M399.19 1012.4h9.5M399.19 1038.8h9.5" fill="none" stroke="#595959" stroke-width="1.55"/>
<path d="M475.76 929.8V945.8M471.01 929.8h9.5M471.01 945.8h9.5" fill="none" stroke="#595959" stroke-width="1.55"/>
<path d="M523.64 884V904M518.89 884h9.5M518.89 904h9.5" fill="none" stroke="#595959" stroke-width="1.55"/>
<path d="M619.4 809.2V834M614.65 809.2h9.5M614.65 834h9.5" fill="none" stroke="#595959" stroke-width="1.55"/>
<path d="M667.28 732.6V750.2M662.53 732.6h9.5M662.53 750.2h9.5" fill="none" stroke="#595959" stroke-width="1.55"/>
<rect x="254.1" y="1071.8" width="12.4" height="10.8" fill="#595959"/>
<rect x="397.74" y="1020.2" width="12.4" height="10.8" fill="#595959"/>
<rect x="469.56" y="932.4" width="12.4" height="10.8" fill="#595959"/>
<rect x="517.44" y="888.6" width="12.4" height="10.8" fill="#595959"/>
<rect x="565.32" y="842.4" width="12.4" height="10.8" fill="#595959"/>
<rect x="613.2" y="816.2" width="12.4" height="10.8" fill="#595959"/>
<rect x="661.08" y="736" width="12.4" height="10.8" fill="#595959"/>
<rect x="732.9" y="762.4" width="12.4" height="10.8" fill="#595959"/>
<polyline points="260.3,692.5 403.94,788.7 475.76,847 523.64,895 571.52,921 619.4,936 667.28,949.6 739.1,980.5" fill="none" stroke="#000000" stroke-width="1.85" stroke-linejoin="round"/>
<path d="M403.94 769.4V808M399.19 769.4h9.5M399.19 808h9.5" fill="none" stroke="#000000" stroke-width="1.55"/>
<path d="M475.76 837V857M471.01 837h9.5M471.01 857h9.5" fill="none" stroke="#000000" stroke-width="1.55"/>
<path d="M523.64 877.7V912.3M518.89 877.7h9.5M518.89 912.3h9.5" fill="none" stroke="#000000" stroke-width="1.55"/>
<path d="M619.4 932V940M614.65 932h9.5M614.65 940h9.5" fill="none" stroke="#000000" stroke-width="1.55"/>
<path d="M667.28 937.8V961.4M662.53 937.8h9.5M662.53 961.4h9.5" fill="none" stroke="#000000" stroke-width="1.55"/>
<path d="M739.1 967.9V993.1M734.35 967.9h9.5M734.35 993.1h9.5" fill="none" stroke="#000000" stroke-width="1.55"/>
<polygon points="260.3,683.6 269.3,696.7 251.3,696.7" fill="#000000"/>
<polygon points="403.94,779.8 412.94,792.9 394.94,792.9" fill="#000000"/>
<polygon points="475.76,838.1 484.76,851.2 466.76,851.2" fill="#000000"/>
<polygon points="523.64,886.1 532.64,899.2 514.64,899.2" fill="#000000"/>
<polygon points="571.52,912.1 580.52,925.2 562.52,925.2" fill="#000000"/>
<polygon points="619.4,927.1 628.4,940.2 610.4,940.2" fill="#000000"/>
<polygon points="667.28,940.7 676.28,953.8 658.28,953.8" fill="#000000"/>
<polygon points="739.1,971.6 748.1,984.7 730.1,984.7" fill="#000000"/>
<polyline points="260.3,1077.2 523.64,856 571.52,808.5 619.4,803.7 667.28,719.9 739.1,762.5" fill="none" stroke="#000000" stroke-width="1.85" stroke-linejoin="round"/>
<path d="M523.64 842.4V869.6M518.89 842.4h9.5M518.89 869.6h9.5" fill="none" stroke="#000000" stroke-width="1.55"/>
<path d="M571.52 793.7V823.3M566.77 793.7h9.5M566.77 823.3h9.5" fill="none" stroke="#000000" stroke-width="1.55"/>
<path d="M619.4 778.2V829.2M614.65 778.2h9.5M614.65 829.2h9.5" fill="none" stroke="#000000" stroke-width="1.55"/>
<path d="M667.28 706.5V733.3M662.53 706.5h9.5M662.53 733.3h9.5" fill="none" stroke="#000000" stroke-width="1.55"/>
<path d="M739.1 740.1V784.9M734.35 740.1h9.5M734.35 784.9h9.5" fill="none" stroke="#000000" stroke-width="1.55"/>
<polygon points="260.3,1071.32 262.4,1075.56 268.19,1075.81 263.69,1078.68 265.18,1083.08 260.3,1080.62 255.42,1083.08 256.91,1078.68 252.41,1075.81 258.2,1075.56" fill="#000000" stroke="#000000" stroke-width="1.1" stroke-linejoin="round"/>
<polygon points="523.64,850.12 525.74,854.36 531.53,854.61 527.03,857.48 528.52,861.88 523.64,859.42 518.76,861.88 520.25,857.48 515.75,854.61 521.54,854.36" fill="#000000" stroke="#000000" stroke-width="1.1" stroke-linejoin="round"/>
<polygon points="571.52,802.62 573.62,806.86 579.41,807.11 574.91,809.98 576.4,814.38 571.52,811.92 566.64,814.38 568.13,809.98 563.63,807.11 569.42,806.86" fill="#000000" stroke="#000000" stroke-width="1.1" stroke-linejoin="round"/>
<polygon points="619.4,797.82 621.5,802.06 627.29,802.31 622.79,805.18 624.28,809.58 619.4,807.12 614.52,809.58 616.01,805.18 611.51,802.31 617.3,802.06" fill="#000000" stroke="#000000" stroke-width="1.1" stroke-linejoin="round"/>
<polygon points="667.28,714.02 669.38,718.26 675.17,718.51 670.67,721.38 672.16,725.78 667.28,723.32 662.4,725.78 663.89,721.38 659.39,718.51 665.18,718.26" fill="#000000" stroke="#000000" stroke-width="1.1" stroke-linejoin="round"/>
<polygon points="739.1,756.62 741.2,760.86 746.99,761.11 742.49,763.98 743.98,768.38 739.1,765.92 734.22,768.38 735.71,763.98 731.21,761.11 737,760.86" fill="#000000" stroke="#000000" stroke-width="1.1" stroke-linejoin="round"/>
<polyline points="260.3,733.8 403.94,783.4 475.76,834.7 523.64,858.6 571.52,862.5 619.4,863.5 667.28,873 739.1,874.5" fill="none" stroke="#595959" stroke-width="1.6" stroke-linejoin="round"/>
<path d="M523.64 848.6V868.6M518.89 848.6h9.5M518.89 868.6h9.5" fill="none" stroke="#595959" stroke-width="1.55"/>
<path d="M571.52 851V874M566.77 851h9.5M566.77 874h9.5" fill="none" stroke="#595959" stroke-width="1.55"/>
<path d="M667.28 862.5V883.5M662.53 862.5h9.5M662.53 883.5h9.5" fill="none" stroke="#595959" stroke-width="1.55"/>
<path d="M739.1 860V889M734.35 860h9.5M734.35 889h9.5" fill="none" stroke="#595959" stroke-width="1.55"/>
<ellipse cx="260.3" cy="733.8" rx="7.2" ry="6.2" fill="#595959" stroke="#fff" stroke-width="2.4" paint-order="stroke"/>
<ellipse cx="403.94" cy="783.4" rx="7.2" ry="6.2" fill="#595959" stroke="#fff" stroke-width="2.4" paint-order="stroke"/>
<ellipse cx="475.76" cy="834.7" rx="7.2" ry="6.2" fill="#595959" stroke="#fff" stroke-width="2.4" paint-order="stroke"/>
<ellipse cx="523.64" cy="858.6" rx="7.2" ry="6.2" fill="#595959" stroke="#fff" stroke-width="2.4" paint-order="stroke"/>
<ellipse cx="571.52" cy="862.5" rx="7.2" ry="6.2" fill="#595959" stroke="#fff" stroke-width="2.4" paint-order="stroke"/>
<ellipse cx="619.4" cy="863.5" rx="7.2" ry="6.2" fill="#595959" stroke="#fff" stroke-width="2.4" paint-order="stroke"/>
<ellipse cx="667.28" cy="873" rx="7.2" ry="6.2" fill="#595959" stroke="#fff" stroke-width="2.4" paint-order="stroke"/>
<ellipse cx="739.1" cy="874.5" rx="7.2" ry="6.2" fill="#595959" stroke="#fff" stroke-width="2.4" paint-order="stroke"/>
<polyline points="260.3,1054 403.94,977.7 475.76,930.8 523.64,914 571.52,884 619.4,875.3 667.28,828.6 739.1,798" fill="none" stroke="#000000" stroke-width="1.85" stroke-linejoin="round"/>
<path d="M403.94 966.2V989.2M399.19 966.2h9.5M399.19 989.2h9.5" fill="none" stroke="#000000" stroke-width="1.55"/>
<path d="M475.76 909.5V952.1M471.01 909.5h9.5M471.01 952.1h9.5" fill="none" stroke="#000000" stroke-width="1.55"/>
<path d="M523.64 897V931M518.89 897h9.5M518.89 931h9.5" fill="none" stroke="#000000" stroke-width="1.55"/>
<path d="M619.4 863.3V887.3M614.65 863.3h9.5M614.65 887.3h9.5" fill="none" stroke="#000000" stroke-width="1.55"/>
<path d="M739.1 791V805M734.35 791h9.5M734.35 805h9.5" fill="none" stroke="#000000" stroke-width="1.55"/>
<polygon points="260.3,1047.07 267.5,1057.37 253.1,1057.37" fill="#fff" stroke="#000000" stroke-width="1.8" stroke-linejoin="miter"/>
<polygon points="403.94,970.77 411.14,981.07 396.74,981.07" fill="#fff" stroke="#000000" stroke-width="1.8" stroke-linejoin="miter"/>
<polygon points="475.76,923.87 482.96,934.17 468.56,934.17" fill="#fff" stroke="#000000" stroke-width="1.8" stroke-linejoin="miter"/>
<polygon points="523.64,907.07 530.84,917.37 516.44,917.37" fill="#fff" stroke="#000000" stroke-width="1.8" stroke-linejoin="miter"/>
<polygon points="571.52,877.07 578.72,887.37 564.32,887.37" fill="#fff" stroke="#000000" stroke-width="1.8" stroke-linejoin="miter"/>
<polygon points="619.4,868.37 626.6,878.67 612.2,878.67" fill="#fff" stroke="#000000" stroke-width="1.8" stroke-linejoin="miter"/>
<polygon points="667.28,821.67 674.48,831.97 660.08,831.97" fill="#fff" stroke="#000000" stroke-width="1.8" stroke-linejoin="miter"/>
<polygon points="739.1,791.07 746.3,801.37 731.9,801.37" fill="#fff" stroke="#000000" stroke-width="1.8" stroke-linejoin="miter"/>
</g>
</svg>
</body>
</html>
